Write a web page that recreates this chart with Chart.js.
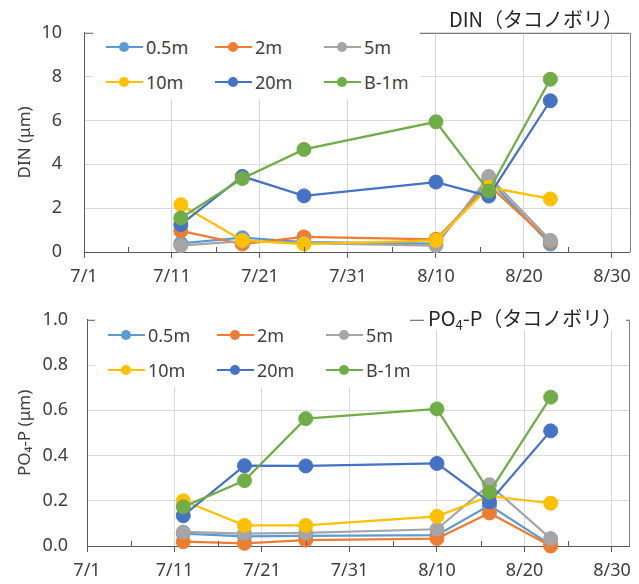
<!DOCTYPE html>
<html lang="ja">
<head>
<meta charset="utf-8">
<title>DIN / PO4-P（タコノボリ）</title>
<script src="https://cdn.jsdelivr.net/npm/chart.js@4/dist/chart.umd.min.js"></script>
<style>
  body { margin: 0; background: #fff; }
  #page { position: relative; width: 639px; height: 584px; overflow: hidden; }
  .panel { position: absolute; left: 0; width: 639px; }
  .panel canvas { position: absolute; left: 0; top: 0; }
  .ttl {
    position: absolute; background: #fff; color: #262626; white-space: nowrap;
    font: 20px "Noto Sans CJK JP", "Noto Sans", sans-serif; line-height: 24px; padding: 0 4px;
  }
  .ttl sub { font-size: 13px; vertical-align: -4px; line-height: 0; }
  .legend {
    position: absolute; background: #fff;
    display: grid; grid-template-columns: 109px 109px 100px; row-gap: 13px;
    padding: 6px 0 6px 13px;
  }
  .item { display: flex; align-items: center; height: 22px; font: 18px "Noto Sans", sans-serif; color: #404040; }
  .mark { position: relative; width: 37px; height: 22px; margin-right: 3px; }
  .mark i { position: absolute; left: 0; right: 0; top: 10px; height: 2px; }
  .mark b { position: absolute; left: 13px; top: 6px; width: 10px; height: 10px; border-radius: 50%; }
</style>
</head>
<body>
<div id="page">
  <div class="panel" id="p1" style="top:0;height:290px;">
    <canvas id="din" width="639" height="290"></canvas>
    <div class="legend" id="leg1" style="left:93px;top:30px;width:314px;"></div>
    <div class="ttl" style="left:445px;top:7px;">DIN（タコノボリ）</div>
  </div>
  <div class="panel" id="p2" style="top:290px;height:294px;">
    <canvas id="po4" width="639" height="294"></canvas>
    <div class="legend" id="leg2" style="left:95px;top:28px;width:302px;"></div>
    <div class="ttl" style="left:424px;top:16px;">PO<sub>4</sub>-P（タコノボリ）</div>
  </div>
</div>
<script>
  'use strict';

  // --- data ---
  var dates = ['7/12', '7/19', '7/26', '8/10', '8/16', '8/23'];
  var seriesNames = ['0.5m', '2m', '5m', '10m', '20m', 'B-1m'];
  var seriesColors = ['#5B9BD5', '#ED7D31', '#A5A5A5', '#FFC000', '#4472C4', '#70AD47'];

  var din05 = [0.39, 0.65, 0.45, 0.38, 3.30, 0.36];
  var din2  = [0.96, 0.36, 0.69, 0.58, 3.05, 0.47];
  var din5  = [0.29, 0.50, 0.40, 0.29, 3.45, 0.53];
  var din10 = [2.16, 0.53, 0.36, 0.53, 2.95, 2.42];
  var din20 = [1.25, 3.45, 2.56, 3.19, 2.55, 6.90];
  var dinB1 = [1.55, 3.35, 4.68, 5.94, 2.78, 7.88];

  var po05 = [0.055, 0.043, 0.045, 0.048, 0.180, 0.005];
  var po2  = [0.019, 0.012, 0.026, 0.033, 0.146, 0.000];
  var po5  = [0.062, 0.055, 0.058, 0.074, 0.271, 0.033];
  var po10 = [0.200, 0.091, 0.091, 0.131, 0.220, 0.189];
  var po20 = [0.134, 0.355, 0.354, 0.365, 0.195, 0.509];
  var poB1 = [0.173, 0.289, 0.563, 0.606, 0.238, 0.658];

  var xTickLabels = ['7/1', '7/11', '7/21', '7/31', '8/10', '8/20', '8/30'];
  var xMin = '7/1', xMax = '9/1';
  var dinYTicks = [0, 2, 4, 6, 8, 10];
  var poYTicks = [0, 0.2, 0.4, 0.6, 0.8, 1.0];

  // days since 7/1
  function dayOf(s) {
    var p = s.split('/');
    var m = +p[0], d = +p[1];
    var start = { 7: 0, 8: 31, 9: 62 };
    return start[m] + d - 1;
  }
  function labelOf(v) {
    for (var i = 0; i < xTickLabels.length; i++) {
      if (dayOf(xTickLabels[i]) === v) return xTickLabels[i];
    }
    return '';
  }

  // --- plot frame + minor ticks ---
  var framePlugin = {
    id: 'frame',
    afterDraw: function (chart) {
      var ctx = chart.ctx, a = chart.chartArea, x = chart.scales.x;
      ctx.save();
      ctx.lineWidth = 1;
      ctx.strokeStyle = '#7f7f7f';
      ctx.beginPath();
      ctx.moveTo(a.left, Math.round(a.top) + 0.5);
      ctx.lineTo(Math.round(a.right) + 0.5, Math.round(a.top) + 0.5);
      ctx.lineTo(Math.round(a.right) + 0.5, a.bottom);
      ctx.stroke();
      // minor ticks halfway between major ticks, pointing up
      ctx.strokeStyle = '#595959';
      ctx.beginPath();
      for (var i = 0; i < xTickLabels.length - 1; i++) {
        var v = (dayOf(xTickLabels[i]) + dayOf(xTickLabels[i + 1])) / 2;
        var px = Math.round(x.getPixelForValue(v)) + 0.5;
        ctx.moveTo(px, a.bottom);
        ctx.lineTo(px, a.bottom - 5);
      }
      ctx.stroke();
      ctx.restore();
    }
  };

  function buildLegend(id) {
    var el = document.getElementById(id);
    el.innerHTML = seriesNames.map(function (n, i) {
      return '<div class="item"><span class="mark"><i style="background:' + seriesColors[i] +
        '"></i><b style="background:' + seriesColors[i] + '"></b></span>' + n + '</div>';
    }).join('');
  }

  function makeChart(canvasId, values, yTicks, yTitle, dec, lay) {
    var datasets = values.map(function (vals, i) {
      return {
        label: seriesNames[i],
        data: vals.map(function (v, j) { return { x: dayOf(dates[j]), y: v }; }),
        borderColor: seriesColors[i],
        backgroundColor: seriesColors[i],
        pointBackgroundColor: seriesColors[i],
        pointBorderColor: seriesColors[i],
        borderWidth: 2.25,
        pointRadius: 7,
        pointBorderWidth: 1,
        clip: false,
        order: values.length - i
      };
    });

    return new Chart(document.getElementById(canvasId), {
      type: 'line',
      data: { datasets: datasets },
      plugins: [framePlugin],
      options: {
        responsive: false,
        animation: false,
        events: [],
        layout: { padding: { top: lay.top, right: lay.right, left: 0, bottom: 0 } },
        plugins: { legend: { display: false }, tooltip: { enabled: false } },
        scales: {
          x: {
            type: 'linear',
            min: dayOf(xMin),
            max: dayOf(xMax),
            afterBuildTicks: function (s) {
              s.ticks = xTickLabels.map(function (t) { return { value: dayOf(t) }; });
            },
            afterFit: function (s) { s.height = lay.xh; },
            ticks: {
              autoSkip: false, maxRotation: 0, padding: 8,
              color: '#404040',
              font: { family: 'Noto Sans', size: 18 },
              callback: function (v) { return labelOf(v); }
            },
            grid: { color: '#d9d9d9', tickColor: '#595959', tickLength: 6 },
            border: { color: '#595959', width: 1 }
          },
          y: {
            min: yTicks[0],
            max: yTicks[yTicks.length - 1],
            afterBuildTicks: function (s) {
              s.ticks = yTicks.map(function (t) { return { value: t }; });
            },
            afterFit: function (s) { s.width = lay.yw; },
            ticks: {
              padding: lay.ypad,
              color: '#404040',
              font: { family: 'Noto Sans', size: 18 },
              callback: function (v) { return v.toFixed(dec); }
            },
            grid: { color: '#d9d9d9', drawTicks: false },
            border: { color: '#595959', width: 1 },
            title: {
              display: true,
              text: yTitle,
              color: '#404040',
              font: { family: 'Noto Sans', size: 17 },
              padding: { top: 15, bottom: 0 }
            }
          }
        }
      }
    });
  }

  buildLegend('leg1');
  buildLegend('leg2');

  makeChart('din', [din05, din2, din5, din10, din20, dinB1], dinYTicks, 'DIN (μm)', 0,
    { top: 20, right: 9, xh: 38, yw: 84, ypad: 22 });
  makeChart('po4', [po05, po2, po5, po10, po20, poB1], poYTicks, 'PO₄-P (μm)', 1,
    { top: 25, right: 8, xh: 38, yw: 87, ypad: 19 });
</script>
</body>
</html>
